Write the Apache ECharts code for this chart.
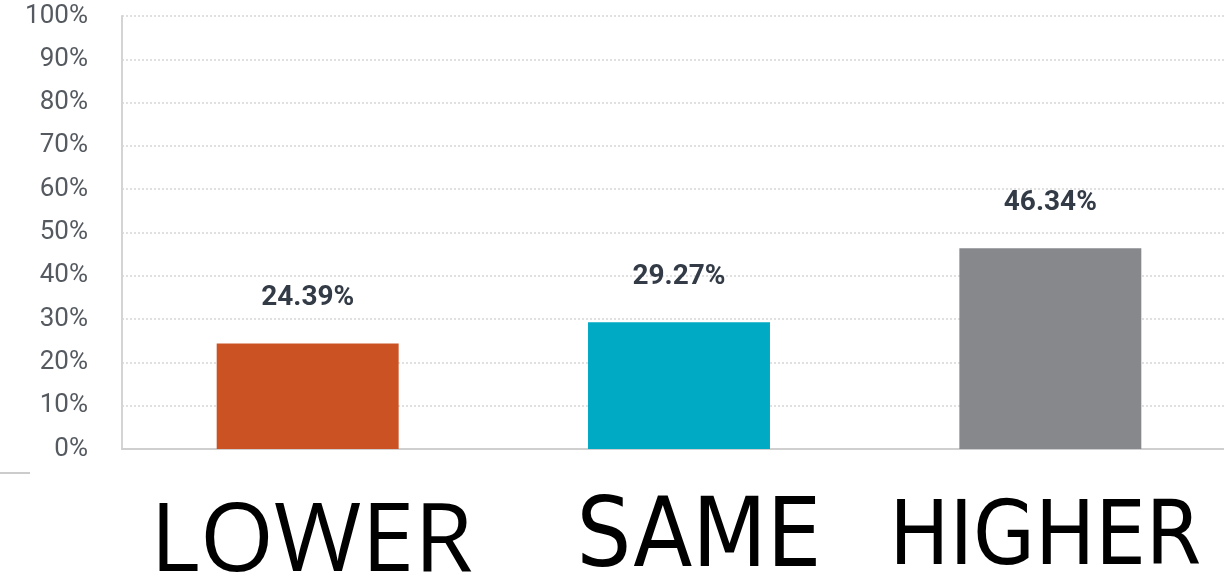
<!DOCTYPE html>
<html>
<head>
<meta charset="utf-8">
<script src="https://cdn.jsdelivr.net/npm/echarts@6/dist/echarts.min.js"></script>
<style>
  html, body { margin: 0; padding: 0; background: #fff; }
  #chart { width: 1224px; height: 580px; }
</style>
</head>
<body>
<div id="chart"></div>
<script>
// categories and values
const categories = ["LOWER", "SAME", "HIGHER"];
const values = [24.39, 29.27, 46.34];
const barColors = ["#cb5323", "#00aac4", "#87888c"];
const labelStyles = ["lo", "sm", "hi"];

const myChart = echarts.init(document.getElementById("chart"));

const option = {
  animation: false,
  backgroundColor: "#fff",
  grid: {
    left: 122,
    right: -12,
    top: 16,
    bottom: 131,
    outerBoundsMode: "none",
  },
  xAxis: {
    type: "category",
    data: categories,
    axisTick: { show: false },
    axisLine: { lineStyle: { color: "#cfcfcf", width: 2 } },
    axisLabel: {
      interval: 0,
      margin: 34,
      color: "#000",
      formatter: function (value, idx) {
        return "{" + labelStyles[idx] + "|" + value + "}";
      },
      rich: {
        lo: { fontFamily: "Open Sans", fontSize: 95, lineHeight: 100, padding: [21, 0, 0, 8] },
        sm: { fontFamily: "DejaVu Sans Condensed", fontSize: 96, lineHeight: 100, padding: [17, 0, 0, 40] },
        hi: { fontFamily: "DejaVu Sans Condensed", fontSize: 89, lineHeight: 100, padding: [15, 10, 0, 0] },
      },
    },
  },
  yAxis: {
    type: "value",
    min: 0,
    max: 100,
    interval: 10,
    axisLine: { show: true, lineStyle: { color: "#d4d4d4", width: 2 } },
    axisTick: { show: false },
    axisLabel: {
      formatter: "{value}%",
      margin: 34,
      fontFamily: "Roboto",
      fontSize: 26,
      color: "#555a60",
    },
    splitLine: {
      lineStyle: { color: "#d6d6d6", width: 1.5, type: [2, 2] },
    },
  },
  series: [
    {
      type: "bar",
      barWidth: "49%",
      data: values.map((v, i) => ({ value: v, itemStyle: { color: barColors[i] } })),
      label: {
        show: true,
        position: "top",
        distance: 31,
        formatter: "{c}%",
        fontFamily: "Roboto",
        fontWeight: "bold",
        fontSize: 28,
        color: "#333b47",
      },
    },
  ],
  graphic: [
    {
      type: "line",
      shape: { x1: 0, y1: 473, x2: 30, y2: 473 },
      style: { stroke: "#cccccc", lineWidth: 2 },
    },
  ],
};

myChart.setOption(option);
window.addEventListener("resize", () => myChart.resize());
</script>
</body>
</html>
